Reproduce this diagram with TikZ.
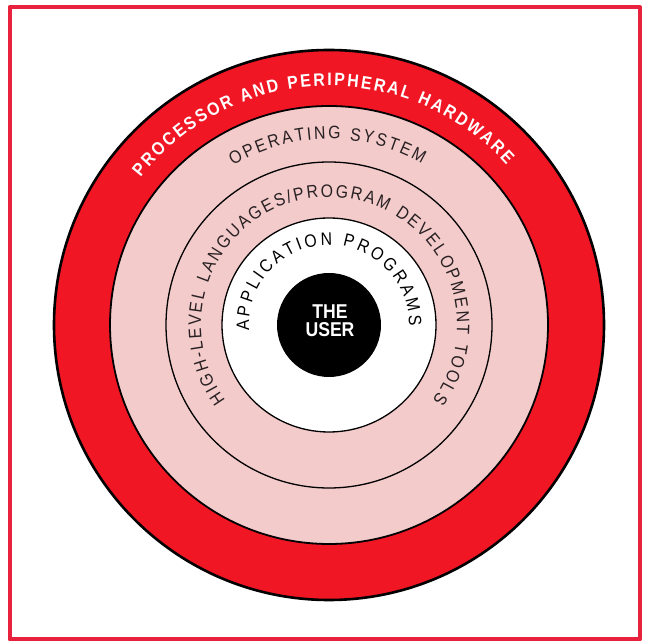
\documentclass[tikz,border=0pt]{standalone}
\usepackage{fontspec}
\setmainfont{Liberation Sans}
\newfontfamily\ringfont[FakeStretch=0.88]{Liberation Sans}
\usetikzlibrary{decorations.text}
\definecolor{ringred}{RGB}{240,22,36}
\definecolor{ringpink}{RGB}{243,203,203}
\definecolor{framered}{RGB}{232,34,60}
\definecolor{inkgray}{RGB}{40,32,34}
\begin{document}
\begin{tikzpicture}[x=1pt,y=1pt,line cap=round,line join=round,
  arctext/.style={decorate,decoration={text along path,text align={fit to path},text color=#1}}]
  \useasboundingbox (0,0) rectangle (645,642);
  \draw[framered,line width=4pt] (9.5,2.5) rectangle (640,634.5);
  \coordinate (c) at (329,317);
  % rings, outside in
  \draw[fill=ringred,line width=2.6pt] (c) circle (275);
  \draw[fill=ringpink,line width=1.8pt] (c) circle (219);
  \draw[line width=1.3pt] (c) circle (163);
  \draw[fill=white,line width=1.3pt] (c) circle (107);
  \fill (c) circle (52);
  % ring labels
  \path[arctext=white,decoration={text={|\ringfont\fontsize{18}{20}\selectfont\bfseries|PROCESSOR AND PERIPHERAL HARDWARE}}]
    (c) ++(142:239) arc[start angle=142,end angle=42,radius=239];
  \path[arctext=inkgray,decoration={text={|\ringfont\fontsize{18}{20}\selectfont|OPERATING SYSTEM}}]
    (c) ++(121:186) arc[start angle=121,end angle=60,radius=186];
  \path[arctext=inkgray,decoration={text={|\ringfont\fontsize{18}{20}\selectfont|HIGH-LEVEL LANGUAGES/PROGRAM DEVELOPMENT TOOLS}}]
    (c) ++(216:128) arc[start angle=216,end angle=-36,radius=128];
  \path[arctext=black,decoration={text={|\ringfont\fontsize{18}{20}\selectfont|APPLICATION PROGRAMS}}]
    (c) ++(184:80) arc[start angle=184,end angle=-1,radius=80];
  \node[font=\ringfont\fontsize{20}{18}\selectfont\bfseries,text=white,align=center] (user) at (330,321) {THE\\USER};
\end{tikzpicture}
\end{document}
